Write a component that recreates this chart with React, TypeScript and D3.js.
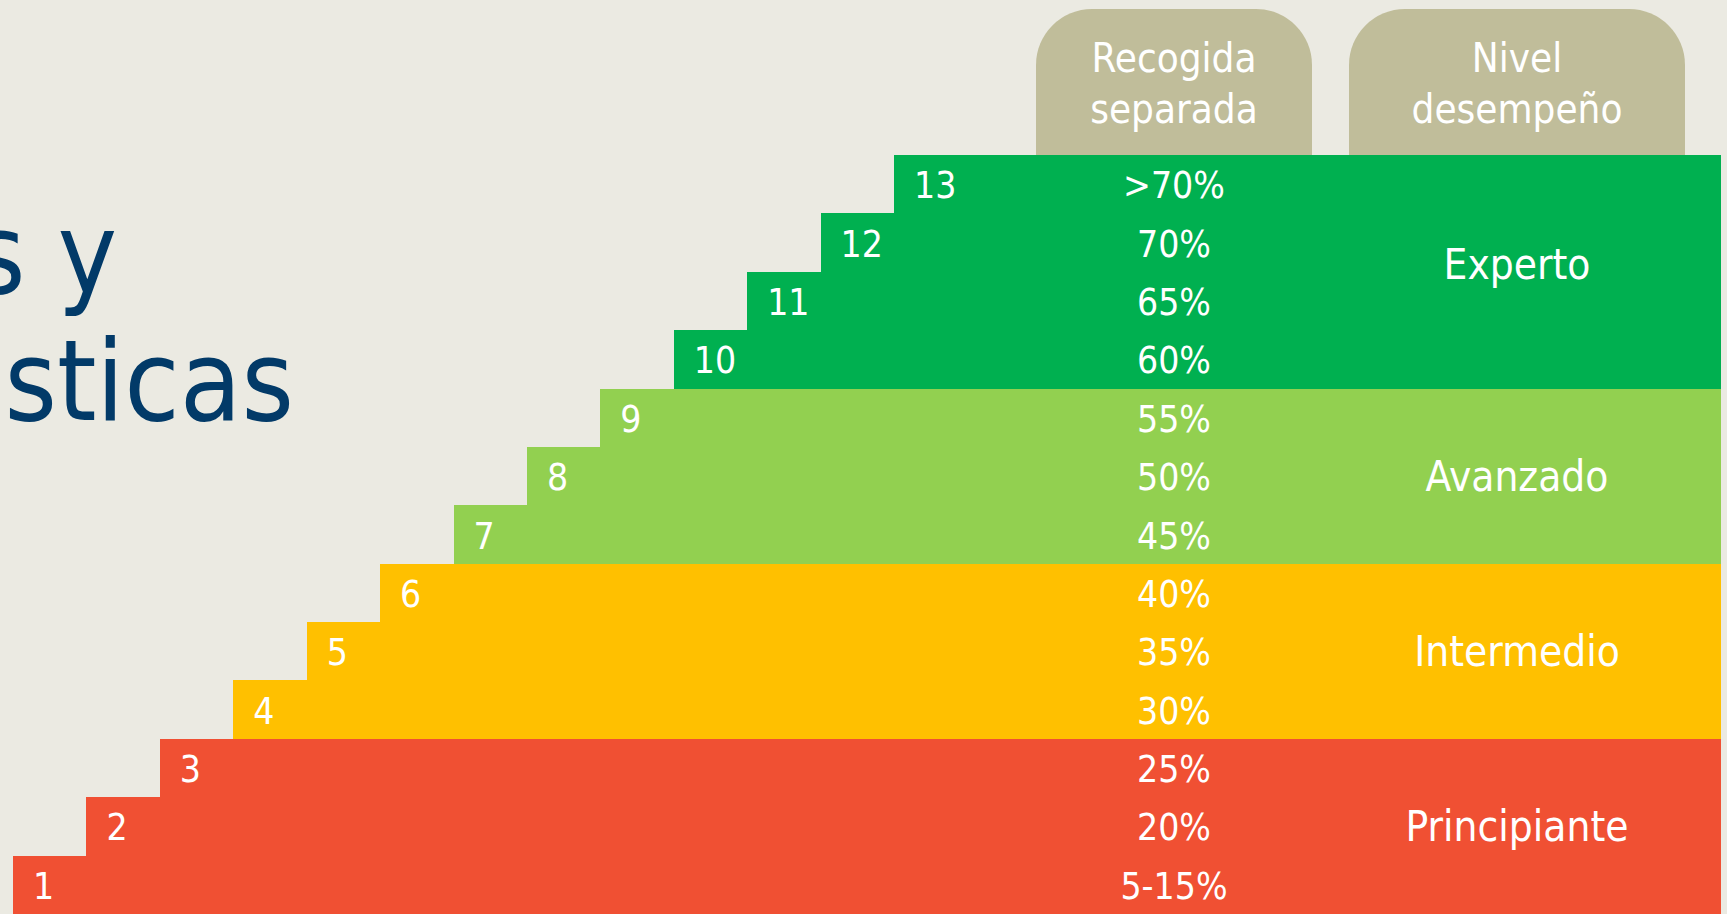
import React from 'react';
import * as d3 from 'd3';

// --- data ---
const steps = [1, 2, 3, 4, 5, 6, 7, 8, 9, 10, 11, 12, 13];
const percentLabels = ['5-15%', '20%', '25%', '30%', '35%', '40%', '45%', '50%', '55%', '60%', '65%', '70%', '>70%'];
const levelNames = ['Principiante', 'Intermedio', 'Avanzado', 'Experto'];
const levelFirstStep = [1, 4, 7, 10];
const levelLastStep = [3, 6, 9, 13];
const levelColors = ['#F05033', '#FFC000', '#92D050', '#00B050'];
const headerLines = [['Recogida', 'separada'], ['Nivel', 'desempeño']];
const titleLines = ['s y', 'sticas'];

const W = 1727;
const H = 914;
const FONT = "'DejaVu Sans Condensed', 'DejaVu Sans', sans-serif";

export default function App() {
  const top = 155;
  const right = 1721;

  const yScale = d3.scaleBand<number>()
    .domain([...steps].reverse())
    .range([top, H])
    .paddingInner(0);

  const xStep = d3.scaleLinear()
    .domain([1, 13])
    .range([13, 894]);

  // the two table columns
  const columns = [
    { x0: 1036, x1: 1312 },
    { x0: 1349, x1: 1685 },
  ];

  const levelOf = (s: number) => levelFirstStep.findIndex((f, i) => s >= f && s <= levelLastStep[i]);

  const headerPath = (x0: number, x1: number, y0: number, y1: number, r: number) => {
    const p = d3.path();
    p.moveTo(x0, y1);
    p.lineTo(x0, y0 + r);
    p.arcTo(x0, y0, x0 + r, y0, r);
    p.lineTo(x1 - r, y0);
    p.arcTo(x1, y0, x1, y0 + r, r);
    p.lineTo(x1, y1);
    p.closePath();
    return p.toString();
  };

  const pctX = (columns[0].x0 + columns[0].x1) / 2;
  const lvlX = (columns[1].x0 + columns[1].x1) / 2;

  return (
    <div style={{ position: 'absolute', left: 0, top: 0, width: W, height: H, overflow: 'hidden' }}>
      <svg width={W} height={H} style={{ display: 'block', background: '#EBEAE2' }}>
        {/* title fragment on the left */}
        <g fill="#023A68" fontFamily={FONT} fontSize={112} textAnchor="end">
          <text x={117} y={293}>{titleLines[0]}</text>
          <text x={294} y={420}>{titleLines[1]}</text>
        </g>

        {/* header tabs */}
        {columns.map((c, i) => (
          <g key={i}>
            <path d={headerPath(c.x0, c.x1, 9, top + 5, 56)} fill="#C0BD9A" />
            {headerLines[i].map((line, j) => (
              <text key={j} x={(c.x0 + c.x1) / 2} y={72 + j * 51} textAnchor="middle"
                fill="#FFFFFF" fontFamily={FONT} fontSize={40}>{line}</text>
            ))}
          </g>
        ))}

        {/* staircase rows */}
        <g shapeRendering="crispEdges">
          {steps.map(s => (
            <rect key={s} x={xStep(s)} y={yScale(s)} width={right - xStep(s)} height={yScale.bandwidth() + 0.5}
              fill={levelColors[levelOf(s)]} />
          ))}
        </g>

        {/* step numbers and percentages */}
        <g fill="#FFFFFF" fontFamily={FONT} fontSize={37}>
          {steps.map((s, i) => {
            const cy = (yScale(s) ?? 0) + yScale.bandwidth() / 2;
            return (
              <g key={s}>
                <text x={xStep(s) + 20} y={cy + 14}>{s}</text>
                <text x={pctX} y={cy + 14} textAnchor="middle">{percentLabels[i]}</text>
              </g>
            );
          })}
        </g>

        {/* level names */}
        <g fill="#FFFFFF" fontFamily={FONT} fontSize={42} textAnchor="middle">
          {levelNames.map((name, i) => {
            const y0 = yScale(levelLastStep[i]) ?? 0;
            const y1 = (yScale(levelFirstStep[i]) ?? 0) + yScale.bandwidth();
            const off = i === 3 ? -8 : 0;
            return <text key={name} x={lvlX} y={(y0 + y1) / 2 + 15 + off}>{name}</text>;
          })}
        </g>
      </svg>
    </div>
  );
}
